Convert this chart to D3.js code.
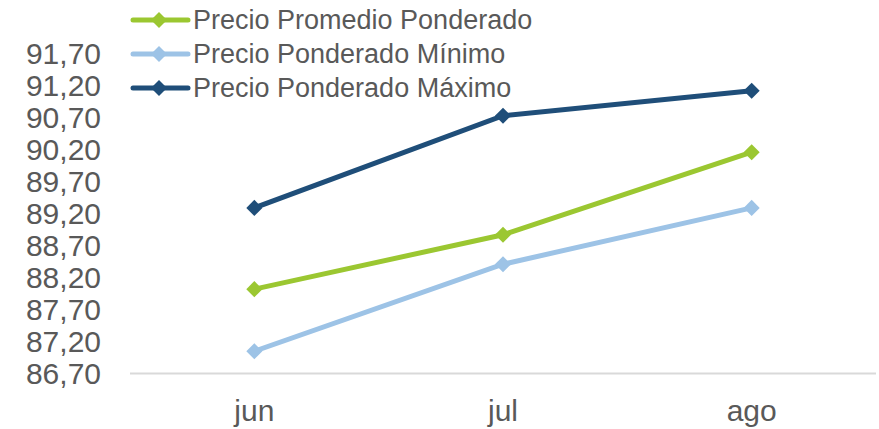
<!DOCTYPE html>
<html>
<head>
<meta charset="utf-8">
<script src="https://cdn.jsdelivr.net/npm/d3@7"></script>
<style>
  body { margin: 0; background: #fff; }
  text { font-family: "Liberation Sans", Arial, sans-serif; fill: #595959; }
</style>
</head>
<body>
<div id="chart-area"></div>
<script>
let width = 879,
    height = 429;

// data
let months = ["jun", "jul", "ago"];
let promedio = [88.01, 88.86, 90.15];
let minimo = [87.04, 88.40, 89.28];
let maximo = [89.28, 90.72, 91.11];
let yTicks = [86.7, 87.2, 87.7, 88.2, 88.7, 89.2, 89.7, 90.2, 90.7, 91.2, 91.7];

let series = [
  {name: "Precio Promedio Ponderado", values: promedio, color: "#9BC731"},
  {name: "Precio Ponderado Mínimo", values: minimo, color: "#9DC3E6"},
  {name: "Precio Ponderado Máximo", values: maximo, color: "#1F4E79"}
];

let svg = d3.select("#chart-area").append("svg")
    .attr("width", width)
    .attr("height", height);

let x = d3.scalePoint()
    .domain(months)
    .range([130, 876])
    .padding(0.5);

let y = d3.scaleLinear()
    .domain([86.7, 91.7])
    .range([373, 53]);

// y axis labels
svg.selectAll(".ylab")
  .data(yTicks)
  .enter().append("text")
  .attr("class", "ylab")
  .attr("x", 101)
  .attr("y", d => y(d))
  .attr("dy", "0.35em")
  .attr("text-anchor", "end")
  .style("font-size", "30px")
  .text(d => d3.format(".2f")(d).replace(".", ","));

// baseline
svg.append("line")
  .attr("x1", 130).attr("x2", 876)
  .attr("y1", y(86.7) + 0.5).attr("y2", y(86.7) + 0.5)
  .style("stroke", "#d9d9d9")
  .style("stroke-width", 2);

// x labels
svg.selectAll(".xlab")
  .data(months)
  .enter().append("text")
  .attr("class", "xlab")
  .attr("x", d => x(d))
  .attr("y", 421)
  .attr("text-anchor", "middle")
  .style("font-size", "30px")
  .text(d => d);

let line = d3.line()
  .x((d, i) => x(months[i]))
  .y(d => y(d));

let diamond = d3.symbol().type(d3.symbolDiamond2).size(165);

series.forEach(function(s) {
  svg.append("path")
    .attr("d", line(s.values))
    .style("fill", "none")
    .style("stroke", s.color)
    .style("stroke-width", 5);

  svg.selectAll(null)
    .data(s.values)
    .enter().append("path")
    .attr("d", diamond)
    .attr("transform", (d, i) => "translate(" + x(months[i]) + "," + y(d) + ")")
    .style("fill", s.color);
});

// legend
let legend = svg.selectAll(".legend")
  .data(series)
  .enter().append("g")
  .attr("class", "legend")
  .attr("transform", (d, i) => "translate(0," + (20 + i * 34) + ")");

legend.append("line")
  .attr("x1", 133).attr("x2", 188)
  .attr("y1", 0).attr("y2", 0)
  .style("stroke", d => d.color)
  .style("stroke-width", 5)
  .style("stroke-linecap", "round");

legend.append("path")
  .attr("d", diamond)
  .attr("transform", "translate(159,0)")
  .style("fill", d => d.color);

legend.append("text")
  .attr("x", 193)
  .attr("y", 0)
  .attr("dy", "0.35em")
  .style("font-size", "27px")
  .text(d => d.name);
</script>
</body>
</html>
